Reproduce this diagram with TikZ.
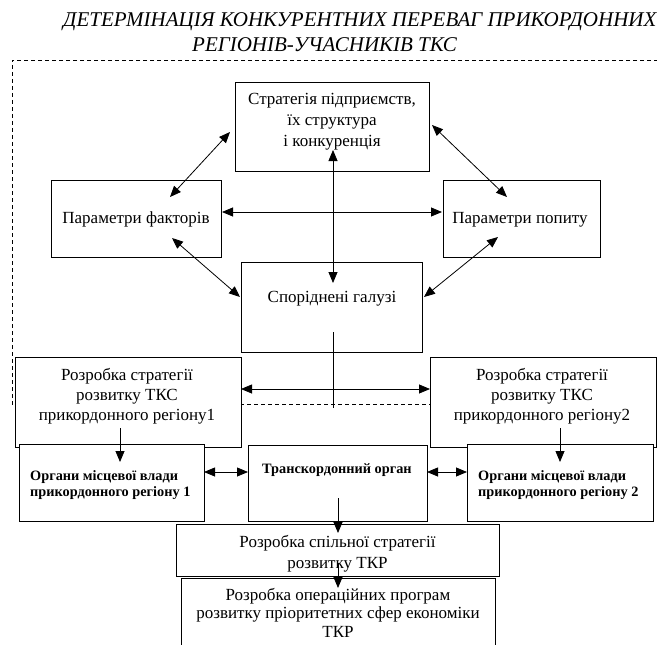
\documentclass[tikz,border=0pt]{standalone}
\usepackage{fontspec}
\setmainfont{Liberation Serif}
\usetikzlibrary{arrows.meta}
\tikzset{
  box/.style={draw, fill=white, line width=0.9pt, inner sep=0pt},
  txt/.style={inner sep=0pt, anchor=base, font=\fontsize{17}{20}\selectfont},
  btxt/.style={inner sep=0pt, anchor=base west, font=\fontsize{14.3}{16}\selectfont\bfseries},
  ttl/.style={inner sep=0pt, anchor=base west, font=\fontsize{21}{24}\selectfont\itshape},
  arr/.style={line width=0.8pt, -{Triangle[length=11pt,width=9pt]}},
  darr/.style={line width=0.8pt, {Triangle[length=11pt,width=9pt]}-{Triangle[length=11pt,width=9pt]}},
  frame/.style={line width=0.8pt, dash pattern=on 4pt off 3pt},
  plain/.style={line width=0.8pt}
}
\begin{document}
\begin{tikzpicture}[x=1pt,y=-1pt]
\useasboundingbox (0,0) rectangle (657,645);
% title
\node[ttl] (title1) at (63,27) {ДЕТЕРМІНАЦІЯ КОНКУРЕНТНИХ ПЕРЕВАГ ПРИКОРДОННИХ};
\node[ttl] (title2) at (192,51) {РЕГІОНІВ-УЧАСНИКІВ ТКС};
% dashed frame
\coordinate (fr1) at (665,60);
\coordinate (fr2) at (12,60);
\coordinate (fr3) at (12,404);
\coordinate (fr4) at (430,404);
\draw[frame] (fr1) -- (fr2) -- (fr3) -- (fr4);
% boxes
\node[box, minimum width=194pt, minimum height=89pt] (strat) at (332,126.5) {};
\node[box, minimum width=170pt, minimum height=77pt] (fact) at (136,218.5) {};
\node[box, minimum width=157pt, minimum height=77pt] (dem) at (521.5,218.5) {};
\node[box, minimum width=181pt, minimum height=90pt] (rel) at (331.5,307) {};
\node[box, minimum width=226pt, minimum height=90pt] (s1) at (128,402) {};
\node[box, minimum width=226pt, minimum height=90pt] (s2) at (543,402) {};
\node[box, minimum width=185pt, minimum height=77pt] (org1) at (111.5,482.5) {};
\node[box, minimum width=179pt, minimum height=76pt] (trans) at (337.5,483) {};
\node[box, minimum width=186pt, minimum height=77pt] (org2) at (560,482.5) {};
\node[box, minimum width=323pt, minimum height=52pt] (joint) at (337.5,550) {};
\node[box, minimum width=314pt, minimum height=82pt] (oper) at (338,619) {};
% texts
\node[txt] (st1) at (332,104) {Стратегія підприємств,};
\node[txt] (st2) at (332,125) {їх структура};
\node[txt] (st3) at (332,146) {і конкуренція};
\node[txt] (fa1) at (136,223) {Параметри факторів};
\node[txt] (de1) at (520,223) {Параметри попиту};
\node[txt] (re1) at (332,302) {Споріднені галузі};
\node[txt] (sa1) at (127,380) {Розробка стратегії};
\node[txt] (sa2) at (127,400) {розвитку ТКС};
\node[txt] (sa3) at (127,420) {прикордонного регіону1};
\node[txt] (sb1) at (542,380) {Розробка стратегії};
\node[txt] (sb2) at (542,400) {розвитку ТКС};
\node[txt] (sb3) at (542,420) {прикордонного регіону2};
\node[btxt] (oa1) at (30,480) {Органи місцевої влади};
\node[btxt] (oa2) at (30,496) {прикордонного регіону 1};
\node[btxt] (tr1) at (262,473) {Транскордонний орган};
\node[btxt] (ob1) at (478,480) {Органи місцевої влади};
\node[btxt] (ob2) at (478,496) {прикордонного регіону 2};
\node[txt] (jo1) at (337.5,547) {Розробка спільної стратегії};
\node[txt] (jo2) at (337.5,568) {розвитку ТКР};
\node[txt] (op1) at (338,600) {Розробка операційних програм};
\node[txt] (op2) at (338,618) {розвитку пріоритетних сфер економіки};
\node[txt] (op3) at (338,637) {ТКР};
% connector ends
\coordinate (a1) at (230,132); \coordinate (a2) at (170,197);
\coordinate (b1) at (432,125); \coordinate (b2) at (507,197);
\coordinate (c1) at (222,212); \coordinate (c2) at (442,212);
\coordinate (d1) at (172,238); \coordinate (d2) at (240,297);
\coordinate (e1) at (498,237); \coordinate (e2) at (424,297);
\coordinate (f1) at (333,150); \coordinate (f2) at (333,283);
\coordinate (g1) at (333,332); \coordinate (g2) at (333,408);
\coordinate (h1) at (241,389); \coordinate (h2) at (430,389);
\coordinate (i1) at (120,428); \coordinate (i2) at (120,462);
\coordinate (j1) at (560,428); \coordinate (j2) at (560,462);
\coordinate (k1) at (204,472); \coordinate (k2) at (248,472);
\coordinate (l1) at (427,472); \coordinate (l2) at (467,472);
\coordinate (m1) at (338,498); \coordinate (m2) at (338,533);
\coordinate (n1) at (338,563); \coordinate (n2) at (338,588);
% connectors
\draw[darr] (a1) -- (a2);
\draw[darr] (b1) -- (b2);
\draw[darr] (c1) -- (c2);
\draw[darr] (d1) -- (d2);
\draw[darr] (e1) -- (e2);
\draw[darr] (f1) -- (f2);
\draw[plain] (g1) -- (g2);
\draw[darr] (h1) -- (h2);
\draw[arr] (i1) -- (i2);
\draw[arr] (j1) -- (j2);
\draw[darr] (k1) -- (k2);
\draw[darr] (l1) -- (l2);
\draw[arr] (m1) -- (m2);
\draw[arr] (n1) -- (n2);
\end{tikzpicture}
\end{document}
